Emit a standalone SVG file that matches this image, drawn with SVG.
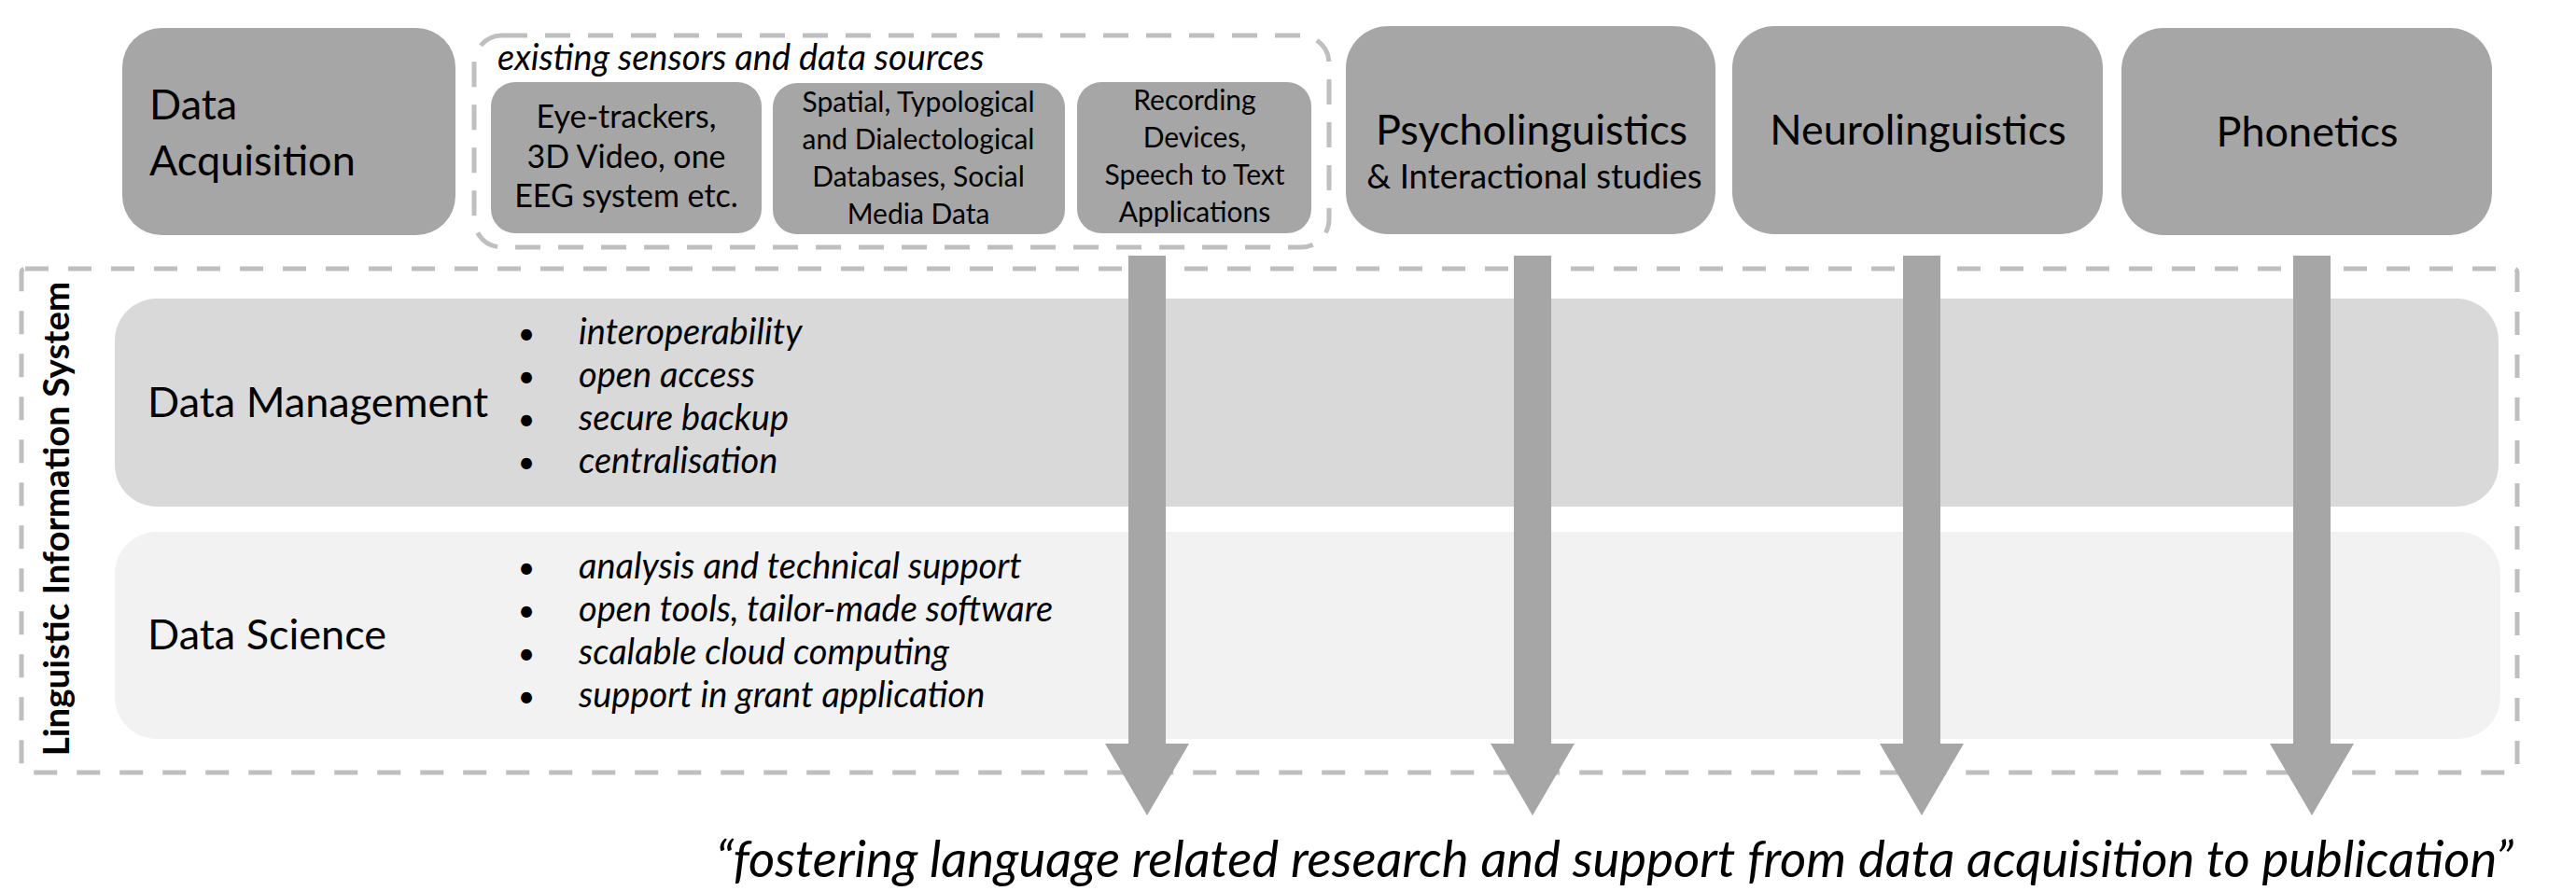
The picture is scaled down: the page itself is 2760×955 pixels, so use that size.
<svg xmlns="http://www.w3.org/2000/svg" width="2760" height="955" viewBox="0 0 2760 955">
<style>
  .dark { fill: #A6A6A6; }
  .t { font-family: Lato, "Open Sans", sans-serif; fill: #000; }
  .big { font-size: 45px; }
  .sub { font-size: 36.5px; }
  .dot { font-size: 32px; }
  .small1 { font-size: 34px; }
  .small2 { font-size: 30px; }
  .it { font-style: italic; font-size: 38px; }
  .dash { fill: none; stroke: #BFBFBF; stroke-width: 5; }
  .arrow { fill: #A6A6A6; }
</style>
<rect width="2760" height="955" fill="#FFFFFF"/>

<g id="lis-frame">
  <rect class="dash" x="23" y="288" width="2674" height="540" rx="4" stroke-dasharray="25 21"/>
  <text class="t" font-weight="bold" font-size="38.5" text-anchor="middle" transform="translate(74,556) rotate(-90)">Linguistic Information System</text>
</g>

<g id="data-management">
  <rect x="123" y="320" width="2554" height="223" rx="45" fill="#D9D9D9"/>
  <text class="t big" x="158" y="447">Data Management</text>
  <g class="t dot">
    <text x="564" y="369" text-anchor="middle">•</text>
    <text x="564" y="415" text-anchor="middle">•</text>
    <text x="564" y="461" text-anchor="middle">•</text>
    <text x="564" y="507" text-anchor="middle">•</text>
  </g>
  <g class="t it">
    <text x="620" y="369">interoperability</text>
    <text x="620" y="415">open access</text>
    <text x="620" y="461">secure backup</text>
    <text x="620" y="507">centralisation</text>
  </g>
</g>

<g id="data-science">
  <rect x="123" y="570" width="2556" height="222" rx="45" fill="#F2F2F2"/>
  <text class="t big" x="158" y="696">Data Science</text>
  <g class="t dot">
    <text x="564" y="620" text-anchor="middle">•</text>
    <text x="564" y="666" text-anchor="middle">•</text>
    <text x="564" y="712" text-anchor="middle">•</text>
    <text x="564" y="758" text-anchor="middle">•</text>
  </g>
  <g class="t it">
    <text x="620" y="620">analysis and technical support</text>
    <text x="620" y="666">open tools, tailor-made software</text>
    <text x="620" y="712">scalable cloud computing</text>
    <text x="620" y="758">support in grant application</text>
  </g>
</g>

<g id="data-acquisition">
  <rect class="dark" x="131" y="30" width="357" height="222" rx="42"/>
  <text class="t big" x="160" y="128">Data</text>
  <text class="t big" x="160" y="188">Acquisition</text>
</g>

<g id="sensors-group">
  <rect class="dash" x="508" y="38" width="916" height="227" rx="30" stroke-dasharray="27 19"/>
  <text class="t it" x="533" y="75">existing sensors and data sources</text>
</g>

<g id="eye-trackers">
  <rect class="dark" x="526" y="88" width="290" height="162" rx="26"/>
  <g class="t small1" text-anchor="middle">
    <text x="671" y="137">Eye-trackers,</text>
    <text x="671" y="180">3D Video, one</text>
    <text x="671" y="222">EEG system etc.</text>
  </g>
</g>

<g id="databases">
  <rect class="dark" x="828" y="89" width="313" height="162" rx="26"/>
  <g class="t small2" text-anchor="middle">
    <text x="984" y="120">Spatial, Typological</text>
    <text x="984" y="160">and Dialectological</text>
    <text x="984" y="200">Databases, Social</text>
    <text x="984" y="240">Media Data</text>
  </g>
</g>

<g id="recording">
  <rect class="dark" x="1154" y="88" width="251" height="162" rx="26"/>
  <g class="t small2" text-anchor="middle">
    <text x="1280" y="118">Recording</text>
    <text x="1280" y="158">Devices,</text>
    <text x="1280" y="198">Speech to Text</text>
    <text x="1280" y="238">Applications</text>
  </g>
</g>

<g id="psycholinguistics">
  <rect class="dark" x="1442" y="28" width="396" height="223" rx="45"/>
  <text class="t big" x="1641" y="155" text-anchor="middle">Psycholinguistics</text>
  <text class="t sub" x="1644" y="202" text-anchor="middle">&amp; Interactional studies</text>
</g>

<g id="neurolinguistics">
  <rect class="dark" x="1856" y="28" width="397" height="223" rx="45"/>
  <text class="t big" x="2055" y="155" text-anchor="middle">Neurolinguistics</text>
</g>

<g id="phonetics">
  <rect class="dark" x="2273" y="30" width="397" height="222" rx="45"/>
  <text class="t big" x="2472" y="157" text-anchor="middle">Phonetics</text>
</g>

<g id="connectors">
  <path class="arrow" d="M1209,274 H1249 V797 H1274 L1229,874 L1184,797 H1209 Z"/>
  <path class="arrow" d="M1622,274 H1662 V797 H1687 L1642,874 L1597,797 H1622 Z"/>
  <path class="arrow" d="M2039,274 H2079 V797 H2104 L2059,874 L2014,797 H2039 Z"/>
  <path class="arrow" d="M2457,274 H2497 V797 H2522 L2477,874 L2432,797 H2457 Z"/>
</g>

<g id="caption">
  <text class="t" font-style="italic" font-size="54.5" x="767" y="940">“fostering language related research and support from data acquisition to publication”</text>
</g>
</svg>
